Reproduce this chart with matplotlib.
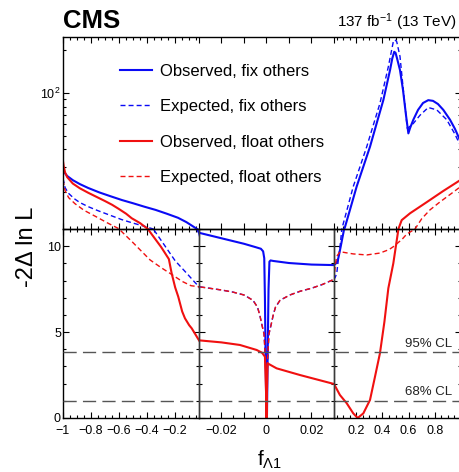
import numpy as np
import matplotlib
matplotlib.use("Agg")
import matplotlib.pyplot as plt
from matplotlib.lines import Line2D
from matplotlib import ticker, transforms

plt.rcParams['font.family'] = ['Liberation Sans', 'DejaVu Sans']
plt.rcParams['mathtext.fontset'] = 'custom'
plt.rcParams['mathtext.rm'] = 'Liberation Sans'
plt.rcParams['mathtext.it'] = 'Liberation Sans:italic'
plt.rcParams['mathtext.bf'] = 'Liberation Sans:bold'

# ---------------- data ----------------
obs_fix_x = [-1.0, -0.99, -0.97, -0.93, -0.88, -0.82, -0.74, -0.66, -0.58, -0.5, -0.42, -0.34,
             -0.26, -0.18, -0.12, -0.08, -0.05, -0.035, -0.03, -0.025, -0.02, -0.015, -0.01,
             -0.005, -0.0025, -0.0015, -0.001, -0.0007, -0.0004, -0.0001, 0.0002, 0.0005,
             0.0009, 0.0013, 0.0018, 0.003, 0.01, 0.02, 0.03, 0.04, 0.051, 0.063, 0.081, 0.101,
             0.112, 0.15, 0.203, 0.25, 0.305, 0.36, 0.407, 0.458, 0.475, 0.49, 0.5, 0.511, 0.534,
             0.557, 0.58, 0.598, 0.611, 0.636, 0.672, 0.71, 0.75, 0.786, 0.824, 0.865, 0.916,
             0.954, 1.0]
obs_fix_y = [29.0, 27.5, 26.0, 24.3, 22.8, 21.4, 19.9, 18.7, 17.6, 16.7, 15.8, 15.0,
             14.1, 13.2, 12.3, 11.6, 11.1, 10.85, 10.78, 10.62, 10.46, 10.3, 10.14,
             9.95, 9.85, 9.7, 9.3, 7.0, 3.5, 0.6, 0.0, 3.5,
             7.5, 9.1, 9.17, 9.14, 9.02, 8.93, 8.9, 8.97, 9.05, 9.3, 9.97, 10.75,
             11.2, 14.8, 21.9, 29.5, 41.8, 63.0, 89.2, 145.0, 175.0, 195.0, 192.0, 176.0, 145.0,
             105.0, 69.6, 51.9, 56.6, 64.8, 76.0, 85.0, 89.0, 88.0, 83.6, 76.0, 64.8,
             55.8, 44.8]

exp_fix_x = [-1.0, -0.985, -0.96, -0.92, -0.88, -0.82, -0.75, -0.66, -0.58, -0.5, -0.42, -0.356,
             -0.28, -0.2, -0.115, -0.06, -0.03, -0.02, -0.015, -0.01, -0.006, -0.004, -0.003,
             -0.002, -0.0011, -0.0005, -0.0002, 0.0, 0.0002, 0.0005, 0.0011, 0.002, 0.003,
             0.004, 0.006, 0.0104, 0.015, 0.02, 0.025, 0.03, 0.04, 0.051, 0.063, 0.076, 0.089,
             0.13, 0.177, 0.23, 0.28, 0.33, 0.381, 0.445, 0.483, 0.496, 0.509, 0.534, 0.56,
             0.59, 0.636, 0.687, 0.75, 0.815, 0.891, 0.95, 1.0]
exp_fix_y = [25.0, 21.5, 19.6, 18.0, 16.9, 15.8, 14.8, 13.7, 12.8, 12.1, 11.5, 11.0,
             10.1, 9.15, 8.4, 7.9, 7.64, 7.45, 7.33, 7.16, 6.85, 6.45, 6.0,
             5.4, 4.9, 3.5, 2.0, 0.0, 2.0, 3.5, 4.9, 5.4, 6.0,
             6.45, 6.85, 7.16, 7.38, 7.55, 7.78, 8.07, 8.2, 8.42, 9.2, 9.97, 10.94,
             15.1, 21.9, 30.5, 41.8, 59.3, 84.6, 153.0, 230.0, 237.0, 230.0, 181.0, 104.0,
             56.2, 61.0, 69.7, 79.0, 76.0, 64.8, 52.0, 41.8]

obs_float_x = [-1.0, -0.995, -0.985, -0.97, -0.93, -0.88, -0.82, -0.75, -0.7, -0.65, -0.605,
               -0.55, -0.51, -0.45, -0.395, -0.3, -0.245, -0.225, -0.2, -0.178, -0.15, -0.13,
               -0.1, -0.082, -0.03, -0.02, -0.0118, -0.0044, -0.002, -0.0007, -0.0002, 0.0,
               0.0002, 0.0005, 0.0045, 0.0149, 0.03, 0.075, 0.127, 0.177, 0.211, 0.254, 0.305,
               0.343, 0.381, 0.415, 0.445, 0.483, 0.521, 0.547, 0.611, 0.738, 0.865, 1.0]
obs_float_y = [33.0, 30.5, 27.5, 25.5, 23.0, 21.3, 19.8, 18.3, 17.3, 16.3, 15.3,
               14.1, 13.1, 12.1, 11.0, 9.95, 9.25, 8.42, 7.6, 7.06, 6.2, 5.8,
               5.4, 5.22, 4.52, 4.4, 4.25, 3.96, 3.8, 3.57, 1.5, 0.0,
               1.5, 3.18, 2.89, 2.5, 1.98, 1.34, 0.86, 0.27, 0.0, 0.27, 1.05,
               2.4, 3.77, 5.6, 7.55, 9.0, 10.94, 12.7, 14.2, 17.0, 20.4, 24.5]

exp_float_x = [-1.0, -0.985, -0.96, -0.915, -0.85, -0.75, -0.68, -0.593, -0.5, -0.379, -0.3,
               -0.237, -0.15, -0.087, -0.03, -0.02, -0.015, -0.01, -0.006, -0.004, -0.003,
               -0.002, -0.0011, -0.0005, -0.0002, 0.0, 0.0002, 0.0005, 0.0011, 0.002, 0.003,
               0.004, 0.006, 0.0104, 0.015, 0.02, 0.025, 0.03, 0.04, 0.05, 0.076, 0.12, 0.177,
               0.28, 0.381, 0.45, 0.483, 0.55, 0.585, 0.649, 0.7, 0.763, 0.83, 0.891, 0.95, 1.0]
exp_float_y = [24.3, 20.5, 18.3, 16.6, 14.9, 13.2, 12.1, 10.94, 10.2, 9.2, 8.75,
               8.42, 7.95, 7.7, 7.64, 7.45, 7.33, 7.16, 6.85, 6.45, 6.0,
               5.4, 4.9, 3.5, 2.0, 0.0, 2.0, 3.5, 4.9, 5.4, 6.0,
               6.45, 6.85, 7.16, 7.38, 7.55, 7.78, 8.07, 8.9, 9.4, 9.68, 9.62, 9.55,
               9.49, 9.6, 9.8, 9.97, 10.4, 10.7, 11.0, 13.0, 15.0, 16.8, 18.5, 20.3, 22.0]

cl_levels = [3.84, 1.0]
cl_labels = ["95% CL", "68% CL"]

legend_labels = ["Observed, fix others", "Expected, fix others",
                 "Observed, float others", "Expected, float others"]

left_ticks = [-1.0, -0.8, -0.6, -0.4, -0.2]
left_ticklabels = ["\u22121", "\u22120.8", "\u22120.6", "\u22120.4", "\u22120.2"]
mid_ticks = [-0.02, -0.01, 0.0, 0.01, 0.02]
mid_ticklabels = ["\u22120.02", "", "0", "", "0.02"]
right_ticks = [0.2, 0.4, 0.6, 0.8]
right_ticklabels = ["0.2", "0.4", "0.6", "0.8"]

BLUE = '#0a0af5'
RED = '#f01010'

# ---------------- layout ----------------
W, H = 460, 472
fig = plt.figure(figsize=(W / 100, H / 100), dpi=100)

px_l, px_d1, px_d2, px_r = 63, 199, 334, 461
py_top, py_mid, py_bot = 37, 229, 418

def fx(p):
    return p / W

def fy(p):
    return 1 - p / H

XB = [-1.0, -0.03, 0.03, 1.0]
XP = [0.0, px_d1 - px_l, px_d2 - px_l, px_r - px_l]

def fwd(x):
    return np.interp(x, XB, XP)

def inv(u):
    return np.interp(u, XP, XB)

ax_top = fig.add_axes([fx(px_l), fy(py_mid), fx(px_r - px_l), (py_mid - py_top) / H])
ax_l = fig.add_axes([fx(px_l), fy(py_bot), fx(px_d1 - px_l), (py_bot - py_mid) / H])
ax_m = fig.add_axes([fx(px_d1), fy(py_bot), fx(px_d2 - px_d1), (py_bot - py_mid) / H])
ax_r = fig.add_axes([fx(px_d2), fy(py_bot), fx(px_r - px_d2), (py_bot - py_mid) / H])

curves = [
    (obs_fix_x, obs_fix_y, dict(color=BLUE, lw=1.5, ls='-')),
    (exp_fix_x, exp_fix_y, dict(color=BLUE, lw=1.0, ls=(0, (3.6, 2.2)))),
    (obs_float_x, obs_float_y, dict(color=RED, lw=1.5, ls='-')),
    (exp_float_x, exp_float_y, dict(color=RED, lw=1.0, ls=(0, (3.6, 2.2)))),
]

# top panel (log)
ax_top.set_xscale('function', functions=(fwd, inv))
ax_top.set_yscale('log')
for x, y, st in curves:
    ax_top.plot(x, y, **st)
ax_top.set_xlim(-1, 1)
ax_top.set_ylim(11, 248)

top_major = left_ticks + [-0.03] + mid_ticks + [0.03] + right_ticks
top_minor = ([v for v in np.arange(-0.95, -0.03, 0.05) if round(v / 0.2, 6) % 1 != 0] +
             [v for v in np.arange(0.05, 1.0, 0.05) if round(v / 0.2, 6) % 1 != 0])
ax_top.xaxis.set_major_locator(ticker.FixedLocator(top_major))
ax_top.xaxis.set_minor_locator(ticker.FixedLocator(top_minor))
ax_top.xaxis.set_major_formatter(ticker.NullFormatter())
ax_top.xaxis.set_minor_formatter(ticker.NullFormatter())
ax_top.yaxis.set_major_locator(ticker.LogLocator(base=10))
ax_top.yaxis.set_minor_locator(ticker.LogLocator(base=10, subs=np.arange(2, 10)))
ax_top.yaxis.set_major_formatter(ticker.LogFormatterSciNotation())
ax_top.yaxis.set_minor_formatter(ticker.NullFormatter())
ax_top.tick_params(axis='both', which='both', direction='in', top=True, bottom=True,
                   left=True, right=True, labelbottom=False, labelsize=9, pad=2)
ax_top.tick_params(which='major', length=4.3, width=0.8)
ax_top.tick_params(which='minor', length=2.3, width=0.8)

# bottom panels (linear)
panels = [(ax_l, (-1.0, -0.03), left_ticks, left_ticklabels, 0.05),
          (ax_m, (-0.03, 0.03), mid_ticks, mid_ticklabels, 0.005),
          (ax_r, (0.03, 1.0), right_ticks, right_ticklabels, 0.05)]
for ax, lim, tks, tls, mstep in panels:
    for x, y, st in curves:
        ax.plot(x, y, **st)
    ax.set_xlim(*lim)
    ax.set_ylim(0, 11)
    ax.set_xticks(tks)
    ax.set_xticklabels(tls)
    ax.xaxis.set_minor_locator(ticker.MultipleLocator(mstep))
    ax.yaxis.set_major_locator(ticker.FixedLocator([0, 5, 10]))
    ax.yaxis.set_minor_locator(ticker.MultipleLocator(1))
    ax.tick_params(axis='both', which='both', direction='in', top=True, bottom=True,
                   left=True, right=True, labelsize=9)
    ax.tick_params(axis='x', pad=5)
    ax.tick_params(axis='y', pad=1.5)
    ax.tick_params(which='major', length=4.3, width=0.8)
    ax.tick_params(which='minor', length=2.3, width=0.8)
    ax.patch.set_alpha(0)
    if ax is not ax_l:
        ax.tick_params(labelleft=False)
    for sp in ax.spines.values():
        sp.set_linewidth(1.0)

for sp in ax_top.spines.values():
    sp.set_linewidth(1.0)
for sp in (ax_l.spines['right'], ax_m.spines['left'], ax_m.spines['right'], ax_r.spines['left']):
    sp.set_color('#3a3a3a')

# CL lines across the whole bottom panel
cl_tr = transforms.blended_transform_factory(fig.transFigure, ax_l.transData)
for lev in cl_levels:
    fig.add_artist(Line2D([fx(px_l), fx(px_r)], [lev, lev], transform=cl_tr,
                          color='#555555', lw=1.0, ls=(0, (9.5, 4.5)), zorder=1))
for lev, lab in zip(cl_levels, cl_labels):
    ax_r.text(0.929, lev + 0.31, lab, ha='right', va='baseline', fontsize=9.5, color='#222222')

# legend
handles = [Line2D([], [], **st) for _, _, st in curves]
fig.legend(handles, legend_labels, loc='upper left',
           bbox_to_anchor=(fx(120), fy(64)), frameon=False, fontsize=12,
           handlelength=1.9, handletextpad=0.5, labelspacing=1.22,
           borderpad=0, borderaxespad=0)

# labels
fig.text(fx(27), fy(246.5), "-2\u0394 ln L", rotation=90, ha='center', va='center', fontsize=17)
fig.text(fx(270), fy(449), r"$\mathregular{f_{\Lambda1}}$", ha='center', va='top', fontsize=15)
fig.text(fx(63), fy(28.5), "CMS", ha='left', va='baseline', fontsize=18.5, fontweight='bold')
fig.text(fx(457), fy(26.7), r"137 fb$^{-1}$ (13 TeV)", ha='right', va='baseline', fontsize=11)

fig.savefig("out.png", dpi=100)
